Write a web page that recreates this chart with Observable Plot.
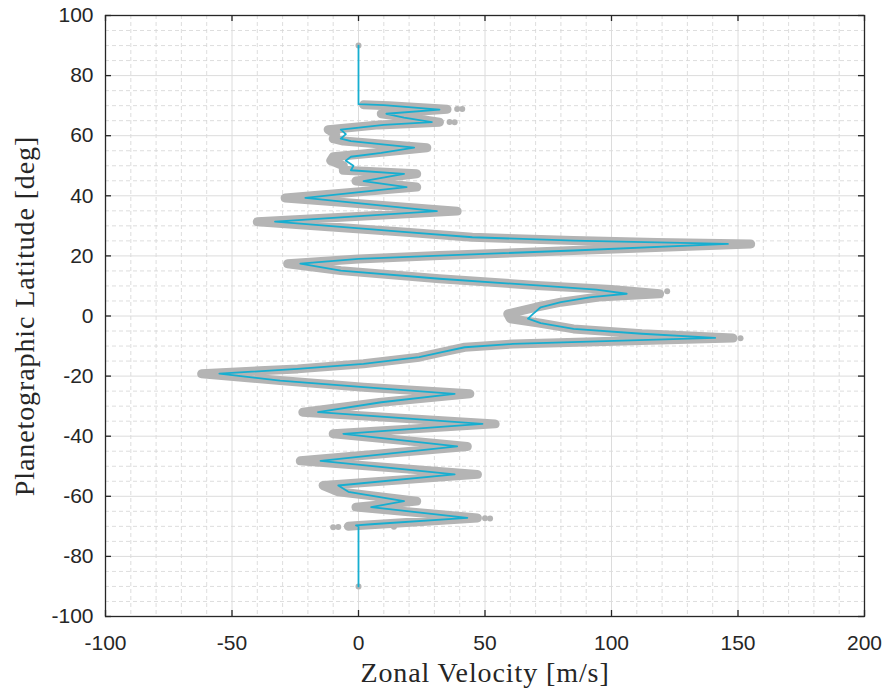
<!DOCTYPE html>
<html>
<head>
<meta charset="utf-8">
<script src="https://cdn.jsdelivr.net/npm/d3@7"></script>
<script src="https://cdn.jsdelivr.net/npm/@observablehq/plot@0.6"></script>
<style>
  html, body { margin: 0; padding: 0; background: #fff; }
  #chart svg { display: block; }
</style>
</head>
<body>
<div id="chart"></div>
<script>
// Zonal wind profile: latitude (deg) vs. zonal velocity (m/s)

// Axis limits and tick values
const xDomain = [-100, 200];
const yDomain = [-100, 100];
const xTicks = [-100, -50, 0, 50, 100, 150, 200];
const yTicks = [-100, -80, -60, -40, -20, 0, 20, 40, 60, 80, 100];
const xMinorTicks = d3.range(-100, 201, 10).filter(v => v % 50 !== 0);
const yMinorTicks = d3.range(-100, 101, 5).filter(v => v % 20 !== 0);

// Fitted profile (thin cyan line)
const profileLat = [90, 70.5, 70.2, 68.7, 67.3, 66, 64.5, 63.6, 62, 60.5, 59, 58.2, 56, 54.3, 53, 51.7, 50, 48.5, 47.3, 44.9, 42.9, 39.3, 34.9, 31.4, 27.9, 26.2, 25.1, 24.5, 24, 21.8, 20.1, 19, 17.4, 15.1, 12.4, 10.1, 8.8, 7.4, 6.3, 4.6, 2.9, 0.7, -0.9, -2.4, -4.3, -5.9, -7.3, -9.3, -10.4, -12, -13.7, -15.9, -17.6, -19.2, -21.5, -23.7, -25.9, -28.7, -32, -35.9, -39.2, -43.4, -48.2, -52.7, -56.4, -58.5, -61.6, -63.6, -67.2, -69.3, -69.7, -70, -90];
const profileVel = [0, 0, 10, 32, 11, 18, 29, 10, -7, -5, -7, -3, 22, 9, -3, -5, -2, -3, 18, 2, 19, -21, 31, -33, 19, 45, 85, 118, 146, 85, 32, 0, -23, -7, 32, 72, 94, 106, 92, 80, 72, 69, 67, 72, 85, 112, 141, 61, 42, 33, 24, 2, -24, -55, -31, 2, 38, 9, -16, 49, -6, 39, -15, 38, -8, -4, 18, 5, 43, 5, -1, 0, 0];

// Measured wind data (thick grey band)
const dataLat = [70.3, 70, 68.8, 67.3, 66, 64.5, 63.6, 62, 60.5, 59, 58.2, 56, 54.3, 53, 51.7, 50, 48.5, 47.3, 44.9, 42.9, 39.3, 34.9, 31.4, 27.9, 26.2, 25.1, 24.5, 24, 21.8, 20.1, 19, 17.4, 15.1, 12.4, 10.1, 8.8, 7.4, 6.3, 4.6, 2.9, 0.7, -0.9, -2.4, -4.3, -5.9, -7.3, -9.3, -10.4, -12, -13.7, -15.9, -17.6, -19.2, -21.5, -23.7, -25.9, -28.7, -32, -35.9, -39.2, -43.4, -48.2, -52.7, -56.4, -58.5, -61.6, -63.6, -67.2, -69.3, -69.7, -70];
const dataVel = [2, 12, 35, 9, 20, 32, 8, -12, -9, -10, -6, 27, 7, -10, -11, -6, -6, 23, -1, 23, -29, 39, -40, 19, 45, 85, 118, 155, 85, 32, 0, -28, -7, 32, 72, 100, 119, 95, 80, 70, 59, 60, 72, 85, 112, 148, 61, 42, 33, 24, 2, -24, -62, -31, 2, 44, 9, -22, 54, -10, 43, -23, 47, -14, -8, 23, -1, 47, 8, 0, -4];

// Isolated measurements outside the band
const speckLat = [90, 68.9, 68.9, 64.6, 64.5, 8.2, -7.4, -67.3, -67.4, -70.2, -70.3, -70.1, -90];
const speckVel = [0, 39, 41, 36, 38, 122, 151, 50, 52, -8, -10, 14, 0];

const profile = profileLat.map((lat, i) => ({lat, vel: profileVel[i]}));
const measured = dataLat.map((lat, i) => ({lat, vel: dataVel[i]}));
const specks = speckLat.map((lat, i) => ({lat, vel: speckVel[i]}));

const ink = "#262626";
const serif = "'Liberation Serif', 'DejaVu Serif', serif";
const xTickLen = (xDomain[1] - xDomain[0]) * 6 / 759;
const yTickLen = (yDomain[1] - yDomain[0]) * 6 / 601;

const chart = Plot.plot({
  width: 887,
  height: 690,
  marginLeft: 105,
  marginRight: 23,
  marginTop: 15,
  marginBottom: 74,
  x: {domain: xDomain},
  y: {domain: yDomain},
  style: {background: "#fff", fontFamily: "'Liberation Sans', Arial, sans-serif", color: ink},
  marks: [
    // minor grid
    Plot.ruleX(xMinorTicks, {stroke: "#d4d4d4", strokeWidth: 0.8, strokeDasharray: "4,3"}),
    Plot.ruleY(yMinorTicks, {stroke: "#d4d4d4", strokeWidth: 0.8, strokeDasharray: "4,3"}),
    // major grid
    Plot.ruleX(xTicks, {stroke: "#dcdcdc", strokeWidth: 1}),
    Plot.ruleY(yTicks, {stroke: "#dcdcdc", strokeWidth: 1}),
    // data band
    Plot.line(measured, {x: "vel", y: "lat", stroke: "#b4b4b4", strokeWidth: 9, strokeLinejoin: "round", strokeLinecap: "round"}),
    Plot.dot(specks, {x: "vel", y: "lat", r: 3, fill: "#b4b4b4"}),
    // fitted profile
    Plot.line(profile, {x: "vel", y: "lat", stroke: "#17aed0", strokeWidth: 1.8}),
    // box
    Plot.frame({stroke: ink, strokeWidth: 1.3}),
    // inward ticks on all four sides
    Plot.ruleX(xTicks, {y1: yDomain[0], y2: yDomain[0] + yTickLen, stroke: ink, strokeWidth: 1.3}),
    Plot.ruleX(xTicks, {y1: yDomain[1], y2: yDomain[1] - yTickLen, stroke: ink, strokeWidth: 1.3}),
    Plot.ruleY(yTicks, {x1: xDomain[0], x2: xDomain[0] + xTickLen, stroke: ink, strokeWidth: 1.3}),
    Plot.ruleY(yTicks, {x1: xDomain[1], x2: xDomain[1] - xTickLen, stroke: ink, strokeWidth: 1.3}),
    // tick labels
    Plot.axisX(xTicks, {tickSize: 0, tickPadding: 19, fontSize: 21, label: null, tickFormat: d => String(d), fill: ink}),
    Plot.axisY(yTicks, {tickSize: 0, tickPadding: 12, fontSize: 21, label: null, tickFormat: d => String(d), fill: ink}),
    // axis titles
    Plot.text(["Zonal Velocity [m/s]"], {frameAnchor: "bottom", lineAnchor: "middle", textAnchor: "middle", dy: 57, fontSize: 28, fontFamily: serif, fill: ink}),
    Plot.text(["Planetographic Latitude [deg]"], {frameAnchor: "left", lineAnchor: "middle", textAnchor: "middle", dx: -80, rotate: -90, fontSize: 28, fontFamily: serif, fill: ink})
  ]
});

// widen the serif axis titles slightly
d3.select(chart).selectAll("text").filter(function () {
  const t = this.textContent;
  return t === "Zonal Velocity [m/s]" || t === "Planetographic Latitude [deg]";
}).style("letter-spacing", "0.9px");

document.getElementById("chart").appendChild(chart);
</script>
</body>
</html>
